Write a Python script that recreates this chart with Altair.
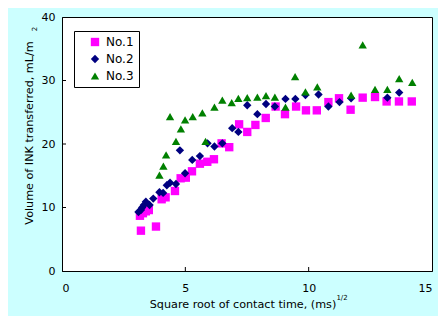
import altair as alt
import pandas as pd

series_names = ["No.1", "No.2", "No.3"]
series_colors = ["#FF00FF", "#000080", "#008000"]
series_shapes = ["square", "diamond", "triangle-up"]

no1_x = [3.20, 3.16, 3.28, 3.40, 3.52, 3.81, 4.04, 4.20, 4.58, 4.81, 5.02, 5.27, 5.59, 5.89,
         6.16, 6.47, 6.78, 7.18, 7.51, 7.84, 8.26, 8.66, 9.04, 9.49, 9.89, 10.33, 10.80,
         11.23, 11.70, 12.19, 12.69, 13.16, 13.66, 14.18]
no1_y = [6.35, 8.7, 9.1, 9.4, 9.6, 7.0, 11.3, 11.6, 12.6, 14.6, 14.7, 15.7, 16.9, 17.2,
         17.6, 20.1, 19.5, 23.1, 21.9, 23.0, 24.1, 25.9, 24.7, 25.9, 25.3, 25.3, 26.6,
         27.2, 25.4, 27.3, 27.4, 26.7, 26.7, 26.7]

no2_x = [3.10, 3.20, 3.25, 3.32, 3.40, 3.55, 3.70, 3.95, 4.10, 4.25, 4.38, 4.62, 4.78, 4.99,
         5.28, 5.59, 5.90, 6.18, 6.50, 6.90, 7.15, 7.51, 7.92, 8.27, 8.63, 9.06, 9.46,
         9.87, 10.40, 10.80, 11.25, 11.72, 13.19, 13.67]
no2_y = [9.3, 9.6, 10.0, 10.4, 10.9, 10.4, 11.4, 12.4, 12.3, 13.5, 13.9, 13.7, 19.0, 15.4,
         17.5, 18.1, 20.1, 19.6, 20.1, 22.5, 21.9, 26.1, 24.7, 26.3, 25.9, 27.1, 27.1,
         27.7, 27.8, 25.9, 26.6, 27.2, 27.3, 28.1]

no3_x = [3.95, 4.11, 4.22, 4.38, 4.62, 4.82, 4.99, 5.30, 5.69, 5.82, 6.18, 6.50, 6.88, 7.15,
         7.51, 7.92, 8.27, 8.63, 9.06, 9.45, 9.87, 10.35, 11.72, 12.19, 12.69, 13.19,
         13.67, 14.20]
no3_y = [15.1, 16.5, 18.3, 24.3, 20.4, 22.4, 23.8, 24.3, 24.9, 20.4, 25.8, 26.9, 26.5, 27.2,
         27.3, 27.4, 27.6, 27.4, 25.8, 30.6, 28.2, 29.0, 27.7, 35.6, 28.6, 28.6,
         30.3, 29.7]

x_ticks = [0, 5, 10, 15]
y_ticks = [0, 10, 20, 30, 40]
x_inner_ticks = [5, 10]
y_inner_ticks = [10, 20, 30]

x_title = "Square root of contact time, (ms)"
x_title_sup = "1/2"
y_title = "Volume of INK transferred, mL/m"
y_title_sup = "2"

FONT = "DejaVu Sans"
W, H = 370, 254

rows = []
for name, xs_, ys_ in zip(series_names, [no1_x, no2_x, no3_x], [no1_y, no2_y, no3_y]):
    for a, b in zip(xs_, ys_):
        rows.append({"series": name, "t": a, "v": b})
df = pd.DataFrame(rows)

xscale = alt.Scale(domain=[0, 15], nice=False, zero=False)
yscale = alt.Scale(domain=[0, 40], nice=False)

axis_common = dict(title=None, tickSize=0, grid=False, domainColor="black",
                   domainWidth=1, labelFont=FONT, labelFontSize=11,
                   labelColor="black", format="d")

points = alt.Chart(df).mark_point(filled=True, opacity=1, size=70, strokeWidth=0).encode(
    x=alt.X("t:Q", scale=xscale, axis=alt.Axis(values=x_ticks, labelPadding=11, **axis_common)),
    y=alt.Y("v:Q", scale=yscale, axis=alt.Axis(values=y_ticks, labelPadding=7, **axis_common)),
    color=alt.Color("series:N", scale=alt.Scale(domain=series_names, range=series_colors),
                    legend=alt.Legend(title=None, orient="none", legendX=12, legendY=14,
                                      fillColor="white", strokeColor="black", padding=5,
                                      labelFont=FONT, labelFontSize=12, labelColor="black",
                                      symbolSize=70, rowPadding=5, symbolOffset=10,
                                      symbolStrokeWidth=0, labelOffset=5)),
    shape=alt.Shape("series:N", scale=alt.Scale(domain=series_names, range=series_shapes)),
)

xt = alt.Chart(pd.DataFrame({"t": x_inner_ticks})).mark_rule(color="black").encode(
    x=alt.X("t:Q", scale=xscale), y=alt.value(H - 4), y2=alt.value(H))
yt = alt.Chart(pd.DataFrame({"v": y_inner_ticks})).mark_rule(color="black").encode(
    y=alt.Y("v:Q", scale=yscale), x=alt.value(0), x2=alt.value(4))

txt = pd.DataFrame({"label": [x_title, x_title_sup, y_title, y_title_sup],
                    "px": [181, 280, -32, -27], "py": [288, 281, 116, 12],
                    "ang": [0, 0, 270, 270], "fs": [11.2, 7, 11.2, 7]})

def text_layer(i):
    r = txt.iloc[i]
    return alt.Chart(txt.iloc[[i]]).mark_text(
        font=FONT, fontSize=float(r.fs), angle=float(r.ang), align="center",
        baseline="middle", color="black").encode(
        x=alt.value(float(r.px)), y=alt.value(float(r.py)), text="label:N")

chart = alt.layer(points, xt, yt, *[text_layer(i) for i in range(4)]).properties(
    width=W, height=H,
    autosize=alt.AutoSizeParams(type="none"),
    padding={"left": 54, "top": 9, "right": 6, "bottom": 45},
    background="#CCFFFF",
).configure_view(fill="white", stroke="black", strokeWidth=1)

chart.save("out.html", embed_options={"renderer": "svg", "actions": False})
